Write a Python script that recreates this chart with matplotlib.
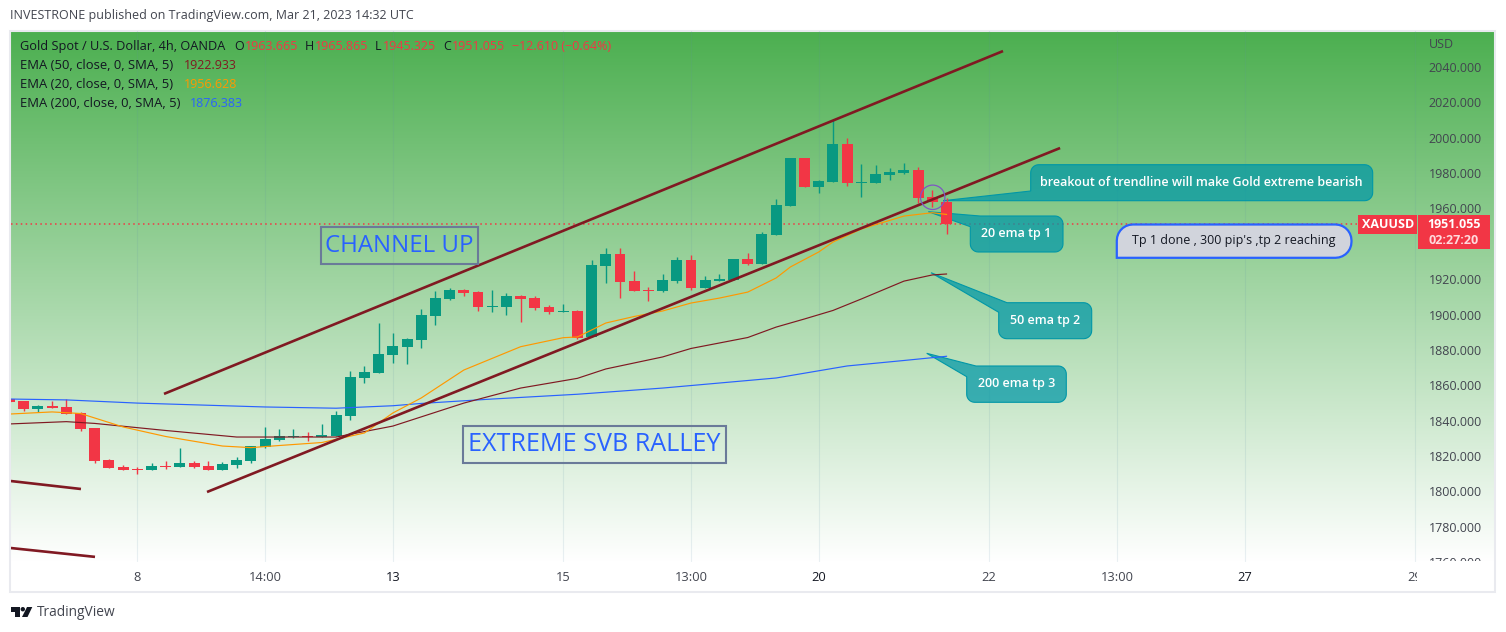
import numpy as np
import matplotlib
matplotlib.use("Agg")
import matplotlib.pyplot as plt
from matplotlib.patches import Polygon, Rectangle, Circle
from matplotlib.colors import LinearSegmentedColormap
from matplotlib.transforms import Bbox

plt.rcParams['font.family'] = ['Open Sans', 'DejaVu Sans']

UP = "#089981"
DOWN = "#f23645"
TREND = "#801922"
TXT = "#131722"
GREY = "#42454f"
W, H = 1506, 632

# candles, bar 0 sits on the "8" tick, prices
first_bar = -9
opens = [1852.2, 1851.1, 1846.6, 1848.3, 1847.7, 1844.3, 1835.8, 1817.7, 1813.8, 1812.6,
         1812.1, 1814.3, 1813.8, 1816.0, 1814.3, 1812.1, 1814.9, 1817.2, 1825.1, 1829.0,
         1830.7, 1831.3, 1830.7, 1831.3, 1842.6, 1864.1, 1866.9, 1877.1, 1881.6, 1885.6,
         1899.2, 1908.8, 1913.9, 1912.7, 1904.3, 1904.3, 1910.5, 1909.3, 1904.3, 1901.4,
         1902.0, 1887.3, 1927.4, 1934.2, 1919.0, 1913.9, 1913.3, 1919.0, 1930.8, 1915.0,
         1919.0, 1919.5, 1931.4, 1928.6, 1945.0, 1961.4, 1988.5, 1972.1, 1975.0, 1996.5,
         1974.4, 1974.4, 1978.9, 1980.1, 1981.8, 1966.5, 1963.665]
highs = [1852.2, 1851.1, 1848.8, 1851.1, 1852.2, 1844.9, 1835.8, 1818.3, 1814.9, 1813.8,
         1816.0, 1817.2, 1824.5, 1817.2, 1817.2, 1816.6, 1819.4, 1825.6, 1836.4, 1835.3,
         1835.3, 1833.6, 1838.1, 1845.4, 1868.1, 1870.9, 1895.2, 1889.6, 1886.7, 1903.1,
         1913.3, 1915.0, 1914.4, 1913.3, 1913.9, 1912.2, 1911.0, 1910.5, 1905.4, 1906.0,
         1902.6, 1930.8, 1937.6, 1937.6, 1924.6, 1915.6, 1922.9, 1932.5, 1933.7, 1921.8,
         1922.9, 1931.4, 1934.8, 1946.7, 1965.3, 1988.5, 1988.5, 1976.1, 2010.0, 1999.8,
         1985.1, 1984.6, 1982.9, 1985.7, 1983.4, 1970.4, 1965.865]
lows = [1850.5, 1845.4, 1844.9, 1847.2, 1843.7, 1834.1, 1816.0, 1813.2, 1812.1, 1809.8,
        1812.1, 1812.6, 1813.8, 1813.2, 1812.1, 1812.1, 1813.2, 1816.0, 1824.5, 1828.5,
        1830.2, 1828.5, 1830.7, 1831.3, 1840.3, 1861.3, 1866.9, 1872.6, 1872.0, 1881.1,
        1894.1, 1908.2, 1910.5, 1902.0, 1901.4, 1899.7, 1895.8, 1902.6, 1900.3, 1901.4,
        1886.2, 1887.3, 1917.8, 1909.3, 1913.3, 1907.7, 1912.7, 1917.8, 1913.9, 1915.0,
        1919.0, 1919.5, 1928.0, 1928.6, 1945.0, 1961.4, 1972.1, 1968.7, 1975.0, 1972.7,
        1966.5, 1974.4, 1976.1, 1979.5, 1963.1, 1960.8, 1945.325]
closes = [1850.5, 1846.6, 1848.3, 1847.2, 1843.7, 1835.3, 1817.2, 1813.2, 1812.1, 1812.1,
          1814.3, 1813.8, 1816.0, 1813.8, 1812.1, 1815.5, 1817.7, 1825.6, 1829.6, 1831.3,
          1831.3, 1830.7, 1831.9, 1843.2, 1864.7, 1867.5, 1877.7, 1882.2, 1886.2, 1899.7,
          1909.3, 1913.9, 1912.2, 1904.3, 1904.8, 1910.5, 1908.8, 1903.7, 1901.4, 1902.0,
          1886.7, 1928.0, 1934.2, 1918.4, 1913.3, 1913.3, 1919.5, 1930.8, 1915.0, 1919.5,
          1920.1, 1931.4, 1928.6, 1945.6, 1962.0, 1988.5, 1972.1, 1975.5, 1996.5, 1974.4,
          1975.0, 1979.5, 1980.6, 1981.8, 1965.9, 1963.7, 1951.055]

# moving averages, only at the bars where the line visibly bends
ema200_bars = [-9, -5, 0, 9, 14, 18, 20, 25, 31, 37, 45, 50, 54, 57]
ema200_vals = [1852.2, 1851.7, 1849.9, 1847.7, 1847.0, 1848.4, 1849.7, 1852.2, 1854.9,
               1858.4, 1864.1, 1870.9, 1874.0, 1876.383]
ema50_bars = [-9, -5, -3, 2, 7, 14, 18, 20, 23, 27, 31, 33, 37, 39, 43, 45, 47, 49, 51, 54, 56, 57]
ema50_vals = [1838.1, 1839.4, 1838.4, 1834.4, 1830.7, 1830.7, 1836.9, 1842.1, 1849.9, 1858.4,
              1863.9, 1869.2, 1876.0, 1880.8, 1887.0, 1892.9, 1897.5, 1902.3, 1908.8, 1918.9,
              1922.4, 1922.933]
ema20_bars = [-9, -6, -4, -1, 2, 6, 8, 10, 13, 16, 18, 20, 23, 27, 30, 31, 33, 35, 37, 39,
              41, 43, 45, 46, 48, 49, 51, 54, 56, 57]
ema20_vals = [1843.7, 1844.9, 1844.0, 1836.4, 1831.0, 1825.6, 1824.7, 1825.9, 1827.6, 1833.0,
              1844.3, 1852.8, 1868.6, 1881.8, 1886.9, 1887.3, 1895.2, 1898.9, 1902.0, 1906.5,
              1909.3, 1912.7, 1920.7, 1926.9, 1935.4, 1941.0, 1948.4, 1955.7, 1957.6, 1956.628]

# trend lines as (bar, price) end points
trend_bars = [[1.88, 60.98], [4.91, 65.0], [-8.9, -3.97], [-8.9, -2.98]]
trend_vals = [[1855.1, 2049.05], [1799.6, 1994.2], [1805.8, 1801.3], [1767.9, 1762.9]]

last_price = 1951.055

price_ticks = [2040, 2020, 2000, 1980, 1960, 1920, 1900, 1880, 1860, 1840, 1820, 1800, 1780, 1760]
time_ticks = [0, 9, 18, 30, 39, 48, 60, 69, 78, 90]
time_labels = ["8", "14:00", "13", "15", "13:00", "20", "22", "13:00", "27", "29"]
time_strong = ["13", "20", "27"]


def callout(px0, py0, px1, py1, tip, base_a, base_b, corner, r=8):
    # rounded box with one corner swapped for the pointer, all in pixels
    # base_a is on the left edge, base_b on the top or bottom edge
    t = np.linspace(0, np.pi / 2, 8)
    tl = [(px0 + r - r * np.cos(a), py0 + r - r * np.sin(a)) for a in t]
    tr = [(px1 - r + r * np.sin(a), py0 + r - r * np.cos(a)) for a in t]
    br = [(px1 - r + r * np.cos(a), py1 - r + r * np.sin(a)) for a in t]
    bl = [(px0 + r - r * np.sin(a), py1 - r + r * np.cos(a)) for a in t]
    if corner == "tl":
        tl = [base_a, tip, base_b]
    else:
        bl = [base_b, tip, base_a]
    return np.array(tl + tr + br + bl)


fig = plt.figure(figsize=(W / 100, H / 100), dpi=100, facecolor="white")

# background layer in pixel coordinates
ov = fig.add_axes([0, 0, 1, 1], zorder=0)
ov.axis("off")

green_white = LinearSegmentedColormap.from_list("gw", ["#4caf50", "#ffffff"])
ov.imshow(np.linspace(0, 1, 256).reshape(-1, 1), cmap=green_white, aspect="auto",
          extent=(11, 1495, 562, 31), zorder=0, interpolation="bilinear")
ov.set_xlim(0, W)
ov.set_ylim(H, 0)
ov.add_patch(Rectangle((10.5, 30.5), 1484.5, 561.5, fill=False, ec="#e9eaef", lw=1.5, zorder=1))

# chart
ax = fig.add_axes([11 / W, 1 - 562 / H, 1406 / W, 531 / H], zorder=1)
ax.patch.set_alpha(0)
ax.set_xlim(-8.897, 90.14)
ax.set_ylim(1760.0, 2060.4)
for s in ax.spines.values():
    s.set_visible(False)

for t in time_ticks:
    ax.axvline(t, color="#5d8fa8", alpha=0.13, lw=0.8, zorder=0.5)

ax.axhline(last_price, color=DOWN, lw=1.1, ls=(0, (1, 2.2)), zorder=1)

ax.yaxis.tick_right()
ax.set_yticks(price_ticks)
ax.set_yticklabels(["%.3f" % p for p in price_ticks], fontsize=9, color=GREY)
ax.tick_params(axis="y", length=0, pad=8.5)
ax.set_xticks(time_ticks)
ax.set_xticklabels(time_labels, fontsize=9.3, color=GREY)
ax.tick_params(axis="x", length=0, pad=6.5)
for lab in ax.get_xticklabels():
    if lab.get_text() in time_strong:
        lab.set_color(TXT)
    lab.set_clip_on(True)
    lab.set_clip_box(Bbox([[0, 0], [1417, H]]))
for lab in ax.get_yticklabels():
    lab.set_clip_on(True)
    lab.set_clip_box(Bbox([[0, H - 561], [W, H]]))

# callouts sit above the price line but under the candles
boxes = [
    (1030.7, 164.7, 1372.7, 200.7, (943, 200.7), (1030.7, 191), (1036, 200.7), "bl"),
    (970.3, 216, 1063, 252, (928.3, 211.7), (970.3, 226.7), (980, 216), "tl"),
    (998.7, 302.7, 1091.7, 338.7, (931, 272.7), (998.7, 312.3), (1007, 302.7), "tl"),
    (966.7, 366, 1066.3, 402.3, (926.7, 353.3), (966.7, 376.7), (976, 366), "tl"),
]
for b in boxes:
    pts = callout(*b)
    ax.add_patch(Polygon(pts, closed=True, transform=ov.transData, clip_on=False,
                         fc=(0, 151 / 255, 167 / 255, 0.72), ec="#0097a7", lw=0.8, zorder=2))

# grey note, square only at the lower left
corner_pt = (1116.8, 257.8)
note = callout(1116.8, 224.5, 1351.5, 257.8, corner_pt, corner_pt, corner_pt, "bl", r=16)
ax.add_patch(Polygon(note, closed=True, transform=ov.transData, clip_on=False,
                     fc="#d1d4dc", ec="#2962ff", lw=1.6, zorder=2))

# candles
bars = np.arange(first_bar, first_bar + len(opens))
o = np.array(opens)
c = np.array(closes)
colors = np.where(c >= o, UP, DOWN)
ax.vlines(bars, lows, highs, colors=colors, lw=1.0, zorder=3)
ax.bar(bars, np.abs(c - o), bottom=np.minimum(o, c), width=0.77, color=colors, lw=0, zorder=3)

ax.plot(ema200_bars, ema200_vals, color="#2962ff", lw=0.85, zorder=4)
ax.plot(ema50_bars, ema50_vals, color=TREND, lw=0.85, zorder=4)
ax.plot(ema20_bars, ema20_vals, color="#ff9800", lw=0.85, zorder=4)

for xs, ys in zip(trend_bars, trend_vals):
    ax.plot(xs, ys, color=TREND, lw=1.9, solid_capstyle="butt", zorder=4.5)

ax.add_patch(Circle((932.7, 197.3), 12.2, transform=ov.transData, fill=False, ec="#7e57c2",
                    lw=0.9, clip_on=False, zorder=5))

# texts in pixel layer, on top of the chart
top = fig.add_axes([0, 0, 1, 1], zorder=2)
top.set_xlim(0, W)
top.set_ylim(H, 0)
top.axis("off")


def label(x, y, s, color=TXT, size=9, ha="left", **kw):
    top.text(x, y, s, color=color, fontsize=size, ha=ha, va="center", **kw)


label(10, 16, "INVESTRONE published on TradingView.com, Mar 21, 2023 14:32 UTC", color=GREY)
label(20, 46.5, "Gold Spot / U.S. Dollar, 4h, OANDA", size=9.2)
for x, s, col in [(234.5, "O", TXT), (245, "1963.665", DOWN), (305, "H", TXT), (315, "1965.865", DOWN),
                  (375, "L", TXT), (383, "1945.325", DOWN), (443, "C", TXT), (452, "1951.055", DOWN),
                  (512, "\u221212.610 (\u22120.64%)", DOWN)]:
    label(x, 46.5, s, color=col)
label(20, 65.5, "EMA (50, close, 0, SMA, 5)", size=9.4)
label(183.5, 65.5, "1922.933", color=TREND)
label(20, 84.5, "EMA (20, close, 0, SMA, 5)", size=9.4)
label(183.5, 84.5, "1956.628", color="#ff9800")
label(20, 103.5, "EMA (200, close, 0, SMA, 5)", size=9.4)
label(190, 103.5, "1876.383", color="#2962ff")

label(1429, 44, "USD", color=GREY)

label(1201.5, 182.5, "breakout of trendline will make Gold extreme bearish", color="white", ha="center", fontweight="semibold")
label(1016.5, 233.5, "20 ema tp 1", color="white", ha="center", fontweight="semibold")
label(1045, 320.5, "50 ema tp 2", color="white", ha="center", fontweight="semibold")
label(1016.5, 383.5, "200 ema tp 3", color="white", ha="center", fontweight="semibold")
label(1234, 240.5, "Tp 1 done , 300 pip's ,tp 2 reaching", ha="center")

top.add_patch(Rectangle((321, 227), 157, 37, fill=False, ec="#6a7a99", lw=1.5))
label(399.5, 245.5, "CHANNEL UP", color="#2962ff", size=17.3, ha="center")
top.add_patch(Rectangle((463, 426), 263, 37, fill=False, ec="#6a7a99", lw=1.5))
label(594.5, 444.5, "EXTREME SVB RALLEY", color="#2962ff", size=18.1, ha="center")

# price badges
top.add_patch(Rectangle((1358.3, 215.3), 59, 18.4, fc=DOWN, ec="none"))
top.add_patch(Rectangle((1418, 215.3), 72, 34, fc=DOWN, ec="none"))
label(1387.8, 224.5, "XAUUSD", color="white", ha="center", fontweight="bold")
label(1454, 225, "1951.055", color="white", ha="center", fontweight="bold")
label(1454, 240, "02:27:20", color="#ffd9dc", ha="center", fontweight="bold")

# TradingView logo
top.add_patch(Polygon([(11, 607), (20, 607), (20, 617), (15.5, 617), (15.5, 611.5), (11, 611.5)], fc=TXT, ec="none"))
top.add_patch(Circle((22.8, 609.2), 2.2, fc=TXT, ec="none"))
top.add_patch(Polygon([(27, 607), (32.3, 607), (27.5, 617), (22, 617)], fc=TXT, ec="none"))
label(36.5, 613, "TradingView", color=GREY, size=9.9)

fig.savefig("out.png", dpi=100)
